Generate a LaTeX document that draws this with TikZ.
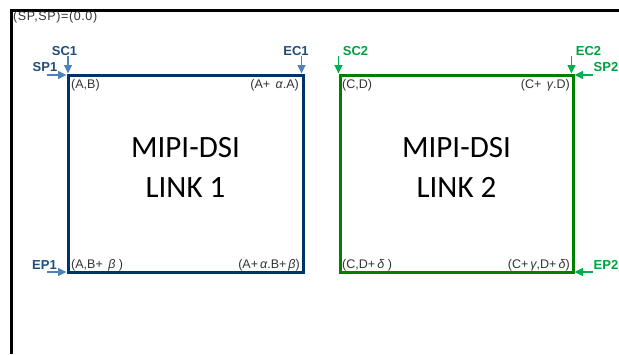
\documentclass[tikz,border=0pt]{standalone}
\usepackage{fontspec}
\setmainfont{Liberation Sans}
\newfontfamily\bigfont{Carlito}
\newfontfamily\widefont[LetterSpace=5]{Liberation Sans}
\usetikzlibrary{arrows.meta}
\definecolor{navy}{HTML}{003366}
\definecolor{navytxt}{HTML}{1F4E79}
\definecolor{lightblue}{HTML}{4F81BD}
\definecolor{boxgreen}{HTML}{008000}
\definecolor{txtgreen}{HTML}{00A040}
\definecolor{arrgreen}{HTML}{00B050}
\definecolor{corner}{HTML}{333333}
\newcommand{\gk}[1]{\,\textit{#1}}
\tikzset{
  linkbox/.style={draw, line width=3pt, minimum width=#1, minimum height=197pt, outer sep=0pt, inner sep=0pt},
  small/.style={font=\fontsize{12.5}{14}\selectfont, text=corner, inner sep=0pt},
  tag/.style={font=\fontsize{13}{15}\selectfont\bfseries, inner sep=0pt},
  title/.style={font=\bigfont\fontsize{31}{40}\selectfont, align=center, inner sep=0pt},
  arrb/.style={lightblue, line width=1.6pt, -{Triangle[length=8.5pt,width=8pt]}, shorten >=1.5pt},
  arrg/.style={arrgreen, line width=1.6pt, -{Triangle[length=8.5pt,width=8pt]}, shorten >=1.5pt},
}
\begin{document}
\begin{tikzpicture}[x=1pt,y=-1pt]
\useasboundingbox (0,0) rectangle (619,354);
% outer frame
\draw[line width=3pt] (10,10) -- (619,10);
\draw[line width=3pt] (11,10) -- (11,354);
\node[small, font=\widefont\fontsize{12.5}{14}\selectfont, anchor=west] (origin) at (13,17.5) {(SP,SP)=(0.0)};

% the two links
\node[linkbox=235pt, navy] (link1) at (185.5,173.5) {};
\node[linkbox=233pt, boxgreen] (link2) at (456.5,173.5) {};
\node[title] (t1) at (185.5,167) {MIPI-DSI\\LINK 1};
\node[title] (t2) at (456.5,167) {MIPI-DSI\\LINK 2};

% corner coordinates
\node[small, anchor=west] (c1a) at (71,85) {(A,B)};
\node[small, anchor=east] (c1b) at (299,85) {(A+ \gk{α}.A)};
\node[small, anchor=west] (c1c) at (71,265) {(A,B+ \gk{β} )};
\node[small, anchor=east] (c1d) at (300,265) {(A+\gk{α}.B+\gk{β})};
\node[small, anchor=west] (c2a) at (342,85) {(C,D)};
\node[small, anchor=east] (c2b) at (570,85) {(C+ \gk{γ}.D)};
\node[small, anchor=west] (c2c) at (342,265) {(C,D+\gk{δ} )};
\node[small, anchor=east] (c2d) at (570,265) {(C+\gk{γ},D+\gk{δ})};

% tags of link 1
\node[tag, text=navytxt] (sc1) at (64.5,51) {SC1};
\node[tag, text=navytxt] (sp1) at (45,67) {SP1};
\node[tag, text=navytxt] (ec1) at (296,51) {EC1};
\node[tag, text=navytxt] (ep1) at (44.5,265) {EP1};
% tags of link 2
\node[tag, text=txtgreen] (sc2) at (355.5,51) {SC2};
\node[tag, text=txtgreen] (ec2) at (588.5,51) {EC2};
\node[tag, text=txtgreen] (sp2) at (606,67) {SP2};
\node[tag, text=txtgreen] (ep2) at (606,265) {EP2};

% arrow start points
\coordinate (sc1s) at (68,56);
\coordinate (sp1s) at (47,75);
\coordinate (ec1s) at (301.5,56);
\coordinate (ep1s) at (47,272);
\coordinate (sc2s) at (338.5,56);
\coordinate (ec2s) at (571.5,56);
\coordinate (sp2s) at (593,75);
\coordinate (ep2s) at (593,272);

\draw[arrb] (sc1s) -- (sc1s |- link1.north);
\draw[arrb] (sp1s) -- (sp1s -| link1.west);
\draw[arrb] (ec1s) -- (ec1s |- link1.north);
\draw[arrb] (ep1s) -- (ep1s -| link1.west);
\draw[arrg] (sc2s) -- (sc2s |- link2.north);
\draw[arrg] (ec2s) -- (ec2s |- link2.north);
\draw[arrg] (sp2s) -- (sp2s -| link2.east);
\draw[arrg] (ep2s) -- (ep2s -| link2.east);
\end{tikzpicture}
\end{document}
